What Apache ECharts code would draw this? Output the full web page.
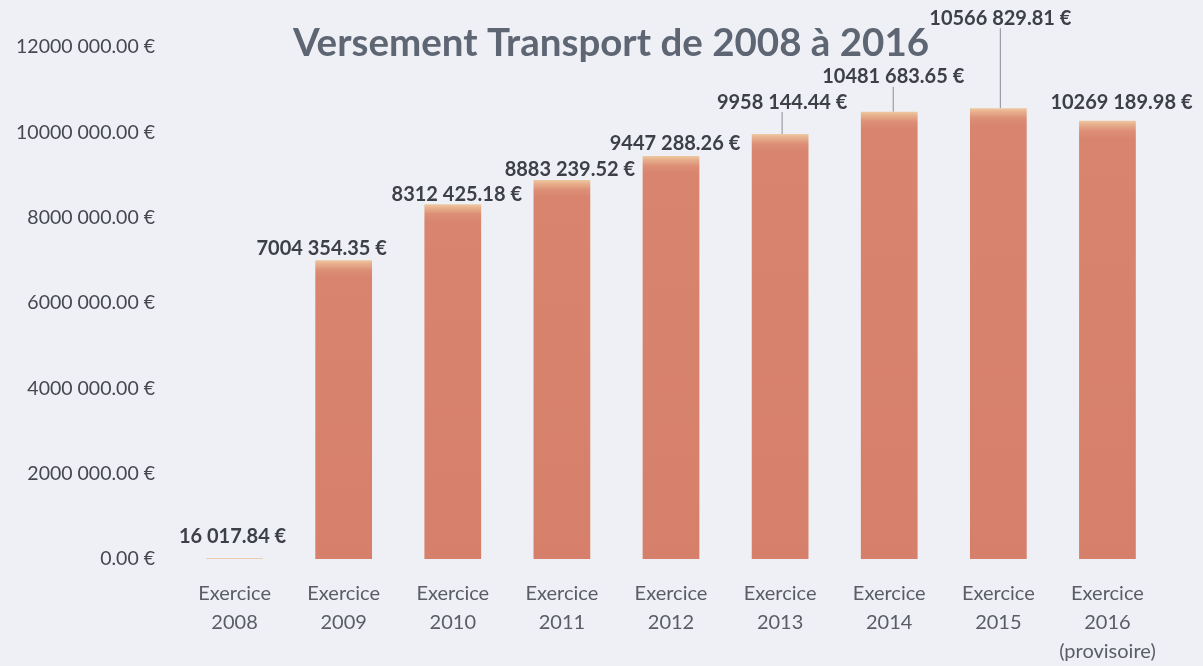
<!DOCTYPE html>
<html>
<head>
<meta charset="utf-8">
<script src="https://cdn.jsdelivr.net/npm/echarts@6/dist/echarts.min.js"></script>
<style>
  html, body { margin: 0; padding: 0; background: #eff0f5; }
  #chart { width: 1203px; height: 666px; }
</style>
</head>
<body>
<div id="chart"></div>
<script>
const categories = [
  'Exercice\n2008', 'Exercice\n2009', 'Exercice\n2010', 'Exercice\n2011', 'Exercice\n2012',
  'Exercice\n2013', 'Exercice\n2014', 'Exercice\n2015', 'Exercice\n2016\n(provisoire)'
];
const amounts = [16017.84, 7004354.35, 8312425.18, 8883239.52, 9447288.26, 9958144.44, 10481683.65, 10566829.81, 10269189.98];
const yTicks = { min: 0, max: 12000000, interval: 2000000 };

// label nudges (px) and which labels get a leader line
const labelShift = [[-2, -7], [-22, 3], [4, 5], [8, 5], [4, 3], [2, -17], [4, -20], [2, -75], [14, -3]];
const withLine = [false, false, false, false, false, true, true, true, false];

// "12000 000.00 €" style: only the last group of three is separated
function euro(v) {
  const s = v.toFixed(2);
  const [ip, dp] = s.split('.');
  const head = ip.length > 3 ? ip.slice(0, -3) + ' ' + ip.slice(-3) : ip;
  return head + '.' + dp + ' €';
}

const chart = echarts.init(document.getElementById('chart'));

const plotH = 514;
function barColor(v) {
  const h = Math.max(1, v / yTicks.max * plotH);
  const a = Math.min(0.5, 3 / h), b = Math.min(0.6, 10 / h), c = Math.min(0.7, 18 / h);
  return new echarts.graphic.LinearGradient(0, 0, 0, 1, [
    { offset: 0, color: '#eec9a2' },
    { offset: a, color: '#e8b48f' },
    { offset: b, color: '#dd8f76' },
    { offset: c, color: '#d8846e' },
    { offset: 1, color: '#d6806b' }
  ]);
}

chart.setOption({
  backgroundColor: '#eff0f5',
  title: {
    text: 'Versement Transport de 2008 à 2016',
    left: 606,
    textAlign: 'center',
    top: 19,
    textStyle: { fontFamily: 'Lato', fontWeight: 'bold', fontSize: 38.5, color: '#5e6674' }
  },
  grid: { left: 180, right: 41, top: 47, bottom: 105 },
  xAxis: {
    type: 'category',
    data: categories,
    axisLine: { show: false },
    axisTick: { show: false },
    axisLabel: {
      margin: 20,
      fontFamily: 'Lato',
      fontSize: 20,
      lineHeight: 29,
      color: '#5a5d66',
      interval: 0
    }
  },
  yAxis: {
    type: 'value',
    min: yTicks.min,
    max: yTicks.max,
    interval: yTicks.interval,
    splitLine: { show: false },
    axisLine: { show: false },
    axisTick: { show: false },
    axisLabel: {
      margin: 25,
      fontFamily: 'Lato',
      fontSize: 19.5,
      color: '#45484f',
      formatter: v => euro(v)
    }
  },
  series: [{
    type: 'bar',
    barWidth: '52%',
    label: {
      show: true,
      position: 'top',
      distance: 5,
      fontFamily: 'Lato',
      fontWeight: 'bold',
      fontSize: 20,
      color: '#3d4048',
      formatter: p => euro(p.value)
    },
    labelLine: { show: false },
    labelLayout: p => ({ dx: labelShift[p.dataIndex][0], dy: labelShift[p.dataIndex][1] }),
    data: amounts.map((v, i) => ({
      value: v,
      itemStyle: { color: barColor(v) },
      labelLine: { show: withLine[i], lineStyle: { color: '#8a8d95', width: 1 } }
    }))
  }]
});
</script>
</body>
</html>
